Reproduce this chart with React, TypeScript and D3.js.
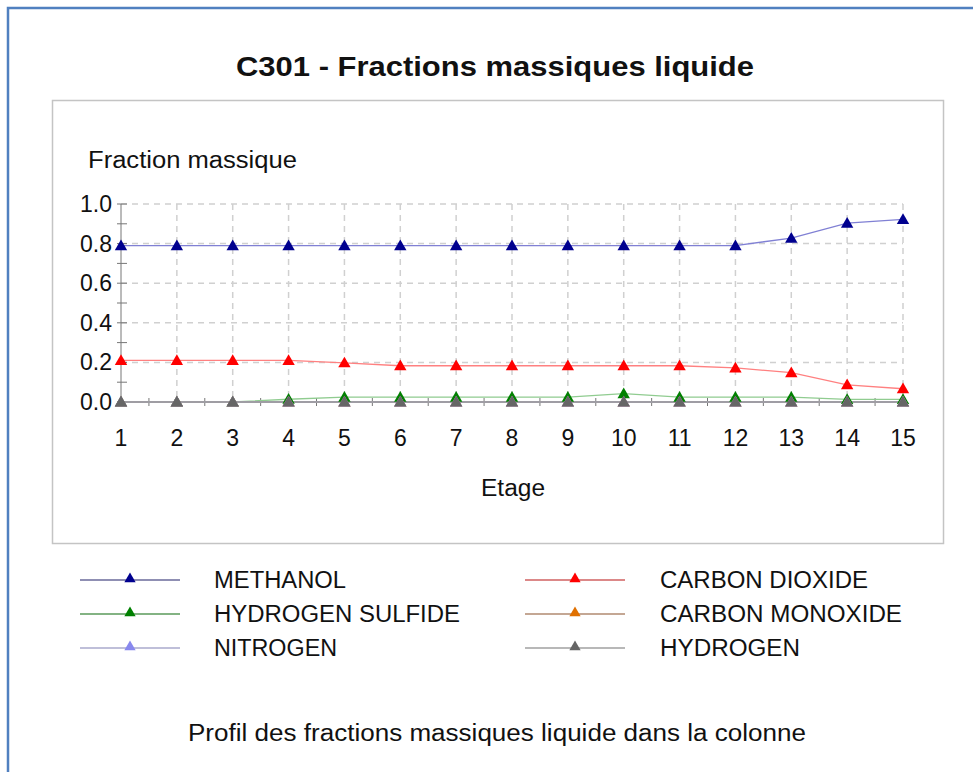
import React from "react";
import * as d3 from "d3";

const stages = [1, 2, 3, 4, 5, 6, 7, 8, 9, 10, 11, 12, 13, 14, 15];
const methanol = [0.79, 0.79, 0.79, 0.79, 0.79, 0.79, 0.79, 0.79, 0.79, 0.79, 0.79, 0.79, 0.828, 0.903, 0.922];
const carbonDioxide = [0.21, 0.21, 0.21, 0.21, 0.198, 0.183, 0.183, 0.183, 0.183, 0.183, 0.183, 0.172, 0.148, 0.087, 0.067];
const hydrogenSulfide = [0, 0, 0, 0.014, 0.025, 0.025, 0.025, 0.025, 0.025, 0.042, 0.025, 0.025, 0.025, 0.013, 0.013];
const carbonMonoxide = [0, 0, 0, 0, 0, 0, 0, 0, 0, 0, 0, 0, 0, 0, 0];
const nitrogen = [0, 0, 0, 0, 0, 0, 0, 0, 0, 0, 0, 0, 0, 0, 0];
const hydrogen = [0, 0, 0, 0, 0, 0, 0, 0, 0, 0, 0, 0, 0, 0, 0];
const yTicks = [0, 0.2, 0.4, 0.6, 0.8, 1.0];
const seriesNames = ["METHANOL", "CARBON DIOXIDE", "HYDROGEN SULFIDE", "CARBON MONOXIDE", "NITROGEN", "HYDROGEN"];

// styling (not data)
const seriesStyle = [
  { values: methanol, line: "#8080d4", legendLine: "#6a6a9a", marker: "#00008f", textW: 132 },
  { values: carbonDioxide, line: "#ff8080", legendLine: "#d06060", marker: "#ff0000", textW: 208 },
  { values: hydrogenSulfide, line: "#90cc90", legendLine: "#5a9a5a", marker: "#008000", textW: 246 },
  { values: carbonMonoxide, line: "#c09070", legendLine: "#b08a70", marker: "#e07000", textW: 242 },
  { values: nitrogen, line: "#b0b0dd", legendLine: "#aaaacc", marker: "#8888ee", textW: 123 },
  { values: hydrogen, line: "#999999", legendLine: "#a0a0a0", marker: "#666666", textW: 140 },
];

const FONT = "'Liberation Sans', Arial, sans-serif";

function Tri({ x, y, color, s = 5.5 }: { x: number; y: number; color: string; s?: number }) {
  const sym = d3.symbol().type(d3.symbolTriangle).size(s * s * 2.2)();
  return <path d={sym || ""} transform={`translate(${x},${y + 1})`} fill={color} />;
}

export default function App() {
  const x = d3.scaleLinear().domain([1, 15]).range([121, 903]);
  const y = d3.scaleLinear().domain([0, 1]).range([402, 204]);
  const line = d3
    .line<number>()
    .x((_, i) => x(stages[i]))
    .y((d) => y(d));
  const minorX = d3.range(1.5, 15, 1);
  const minorY = d3.range(0.1, 1.0, 0.2);

  const series = seriesNames.map((name, i) => ({ name, ...seriesStyle[i] }));
  const legendRows = [
    [series[0], series[1]],
    [series[2], series[3]],
    [series[4], series[5]],
  ];

  return (
    <svg
      width={973}
      height={772}
      style={{ position: "absolute", left: 0, top: 0, background: "#fff" }}
      fontFamily={FONT}
    >
      <rect x={0} y={0} width={973} height={772} fill="#fff" />
      {/* outer frame */}
      <path d="M8,772 L8,8 L973,8" fill="none" stroke="#5080c0" strokeWidth={2.5} />
      {/* inner frame */}
      <rect x={52.5} y={100.5} width={891} height={443} fill="#fff" stroke="#c4c4c4" strokeWidth={1.5} />

      <text x={236} y={76} fontSize={27} fontWeight="bold" fill="#111" textLength={518} lengthAdjust="spacingAndGlyphs">
        C301 - Fractions massiques liquide
      </text>

      <text x={88} y={168} fontSize={23} fill="#111" textLength={209} lengthAdjust="spacingAndGlyphs">
        Fraction massique
      </text>

      {/* grid */}
      {stages.slice(1).map((s) => (
        <line key={"gx" + s} x1={x(s)} x2={x(s)} y1={y(1)} y2={y(0)} stroke="#d0d0d0" strokeWidth={1.5} strokeDasharray="6,5" />
      ))}
      {yTicks.slice(1).map((t) => (
        <line key={"gy" + t} x1={x(1)} x2={x(15)} y1={y(t)} y2={y(t)} stroke="#d0d0d0" strokeWidth={1.5} strokeDasharray="6,5" />
      ))}

      {/* axes */}
      <line x1={x(1)} x2={x(1)} y1={y(1)} y2={y(0)} stroke="#777" strokeWidth={1} />
      <line x1={x(1)} x2={x(15)} y1={y(0)} y2={y(0)} stroke="#777" strokeWidth={1} />
      {yTicks.map((t) => (
        <line key={"ty" + t} x1={x(1) - 4} x2={x(1) + 6} y1={y(t)} y2={y(t)} stroke="#777" />
      ))}
      {minorY.map((t) => (
        <line key={"my" + t} x1={x(1) - 4} x2={x(1) + 6} y1={y(t)} y2={y(t)} stroke="#777" />
      ))}
      {stages.map((s) => (
        <line key={"tx" + s} x1={x(s)} x2={x(s)} y1={y(0) - 4} y2={y(0) + 4} stroke="#777" />
      ))}
      {minorX.map((s) => (
        <line key={"mx" + s} x1={x(s)} x2={x(s)} y1={y(0) - 4} y2={y(0) + 4} stroke="#777" />
      ))}
      {yTicks.map((t) => (
        <text key={"ly" + t} x={112} y={y(t) + 8} textAnchor="end" fontSize={23} fill="#111">
          {d3.format(".1f")(t)}
        </text>
      ))}
      {stages.map((s) => (
        <text key={"lx" + s} x={x(s)} y={446} textAnchor="middle" fontSize={23} fill="#111">
          {s}
        </text>
      ))}
      <text x={481} y={496} fontSize={23} fill="#111" textLength={64} lengthAdjust="spacingAndGlyphs">Etage</text>

      {/* series */}
      {series.map((sr) => (
        <path key={sr.name} d={line(sr.values) || ""} fill="none" stroke={sr.line} strokeWidth={1.3} />
      ))}
      {series.map((sr) => (
        <g key={sr.name + "m"}>
          {sr.values.map((v, i) => (
            <Tri key={i} x={x(stages[i])} y={y(v)} color={sr.marker} />
          ))}
        </g>
      ))}

      {/* legend */}
      {legendRows.map((row, r) =>
        row.map((sr, c) => {
          const lx = c === 0 ? 80 : 525;
          const ly = 580 + r * 34;
          return (
            <g key={sr.name + "leg"}>
              <line x1={lx} x2={lx + 100} y1={ly} y2={ly} stroke={sr.legendLine} strokeWidth={1.3} />
              <Tri x={lx + 50} y={ly - 2} color={sr.marker} s={5} />
              <text
                x={c === 0 ? 214 : 660}
                y={ly + 8}
                fontSize={23}
                fill="#111"
                textLength={sr.textW}
                lengthAdjust="spacingAndGlyphs"
              >
                {sr.name}
              </text>
            </g>
          );
        })
      )}

      <text x={188} y={741} fontSize={23} fill="#111" textLength={618} lengthAdjust="spacingAndGlyphs">
        Profil des fractions massiques liquide dans la colonne
      </text>
    </svg>
  );
}
